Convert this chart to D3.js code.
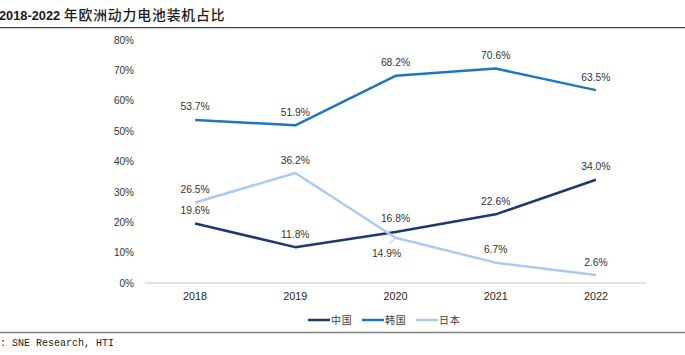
<!DOCTYPE html>
<html>
<head>
<meta charset="utf-8">
<script src="https://cdn.jsdelivr.net/npm/d3@7/dist/d3.min.js"></script>
<style>
  html, body { margin: 0; padding: 0; background: #fff; }
  svg { display: block; }
</style>
</head>
<body>
<svg id="chart" width="685" height="355"></svg>
<script>
const years = ["2018", "2019", "2020", "2021", "2022"];
const china = [19.6, 11.8, 16.8, 22.6, 34.0];
const korea = [53.7, 51.9, 68.2, 70.6, 63.5];
const japan = [26.5, 36.2, 14.9, 6.7, 2.6];
const seriesNames = ["中国", "韩国", "日本"];
const yTicks = [0, 10, 20, 30, 40, 50, 60, 70, 80];
const titleNum = "2018-2022";
const titleCn = "年欧洲动力电池装机占比";
const sourceText = ": SNE Research, HTI";

const colors = ["#1c3a6e", "#1f76c2", "#a9cbf3"];
const series = [
  { name: seriesNames[0], values: china, color: colors[0] },
  { name: seriesNames[1], values: korea, color: colors[1] },
  { name: seriesNames[2], values: japan, color: colors[2] }
];

const svg = d3.select("#chart");
const latin = "'Liberation Sans', Arial, sans-serif";
const cjk = "'Noto Sans CJK SC', sans-serif";

// Title
const title = svg.append("text").attr("x", -1).attr("y", 20)
  .attr("font-weight", "bold").attr("fill", "#1a1a1a");
title.append("tspan").attr("font-family", latin).attr("font-size", 12.8).text(titleNum + " ");
title.append("tspan").attr("font-family", cjk).attr("font-size", 13.8).attr("font-weight", 500)
  .attr("letter-spacing", 0.9).text(titleCn);

svg.append("line").attr("x1", 0).attr("x2", 685).attr("y1", 27.5).attr("y2", 27.5)
  .attr("stroke", "#404040").attr("stroke-width", 1.2);
svg.append("line").attr("x1", 0).attr("x2", 685).attr("y1", 28.6).attr("y2", 28.6)
  .attr("stroke", "#cfcfcf").attr("stroke-width", 1);

// Scales
const x = d3.scaleBand().domain(years).range([145, 646]);
const y = d3.scaleLinear().domain([0, 80]).range([283, 40]);
const cx = d => x(d) + x.bandwidth() / 2;

// Y axis
const yAxis = d3.axisLeft(y).tickValues(yTicks).tickFormat(d => d + "%").tickSize(0).tickPadding(0);
const yg = svg.append("g").attr("transform", "translate(134,0)").call(yAxis);
yg.select(".domain").remove();
yg.selectAll("text").attr("font-family", latin).attr("font-size", 10).attr("fill", "#333");

// baseline gridline
svg.append("line").attr("x1", x.range()[0]).attr("x2", x.range()[1])
  .attr("y1", y(0)).attr("y2", y(0)).attr("stroke", "#d9d9d9").attr("stroke-width", 1.5);

// X axis
const xAxis = d3.axisBottom(x).tickSize(0).tickPadding(0);
const xg = svg.append("g").attr("transform", "translate(0,292)").call(xAxis);
xg.select(".domain").remove();
xg.selectAll("text").attr("font-family", latin).attr("font-size", 10.8).attr("fill", "#1f1f1f");

// Lines
const line = d3.line().x((d, i) => cx(years[i])).y(d => y(d));
series.forEach(s => {
  svg.append("path").datum(s.values).attr("d", line)
    .attr("fill", "none").attr("stroke", s.color).attr("stroke-width", 2.5)
    .attr("stroke-linejoin", "round");
});

// Leader line for 2020 Japan label
svg.append("line")
  .attr("x1", cx(years[2]) - 1).attr("y1", y(japan[2]) + 1)
  .attr("x2", cx(years[2]) - 6).attr("y2", y(japan[2]) + 6)
  .attr("stroke", "#a6a6a6").attr("stroke-width", 0.8);

// Data labels
series.forEach((s, si) => {
  s.values.forEach((v, i) => {
    let dx = 0, dy = -9.5;
    if (si === 2 && i === 2) { dx = -9; dy = 19; }
    svg.append("text")
      .attr("x", cx(years[i]) + dx).attr("y", y(v) + dy)
      .attr("text-anchor", "middle")
      .attr("font-family", latin).attr("font-size", 10.3).attr("fill", "#333")
      .text(v.toFixed(1) + "%");
  });
});

// Legend
const legendX = [308, 362, 416];
series.forEach((s, i) => {
  const g = svg.append("g").attr("transform", `translate(${legendX[i]},320)`);
  g.append("line").attr("x1", 0).attr("x2", 22).attr("y1", 0).attr("y2", 0)
    .attr("stroke", s.color).attr("stroke-width", 2.5);
  g.append("text").attr("x", 23).attr("y", 3.6)
    .attr("font-family", cjk).attr("font-size", 10).attr("fill", "#404040")
    .attr("letter-spacing", 0.8)
    .text(s.name);
});

// Bottom rule and source
svg.append("line").attr("x1", 0).attr("x2", 685).attr("y1", 332.5).attr("y2", 332.5)
  .attr("stroke", "#7f7f7f").attr("stroke-width", 1.3);
svg.append("text").attr("x", 0).attr("y", 345.5)
  .attr("font-family", "'Liberation Mono', monospace").attr("font-size", 10).attr("fill", "#1a1a1a")
  .text(sourceText);
</script>
</body>
</html>
